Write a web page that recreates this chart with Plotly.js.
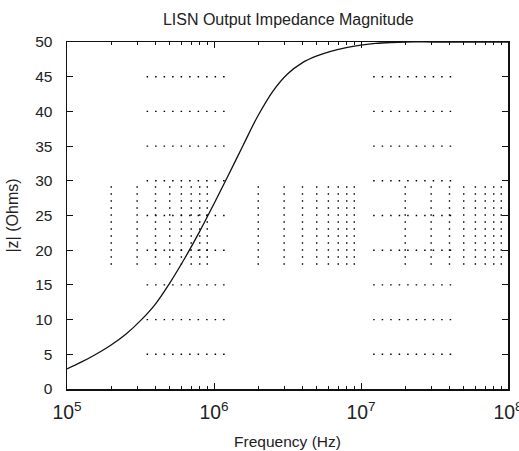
<!DOCTYPE html>
<html>
<head>
<meta charset="utf-8">
<script src="https://cdn.plot.ly/plotly-3.0.1.min.js"></script>
<style>html,body{margin:0;padding:0;background:#fff;}#chart{width:519px;height:451px;}</style>
</head>
<body>
<div id="chart"></div>
<script>
// Curve: log10 of frequency (Hz) and |Z| (Ohms)
const logFreq = [5.0, 5.1, 5.2, 5.3, 5.4, 5.5, 5.6, 5.7, 5.8, 5.9, 6.0, 6.1, 6.2, 6.3, 6.4, 6.5, 6.6, 6.7, 6.8, 6.9, 7.0, 7.1, 7.2, 7.3, 7.5, 7.75, 8.0];
const impedance = [2.9, 3.9, 5.05, 6.35, 7.9, 9.85, 12.2, 15.3, 18.8, 22.6, 26.7, 30.9, 35.2, 39.4, 42.9, 45.4, 47.0, 48.0, 48.7, 49.2, 49.55, 49.8, 49.93, 50.0, 50.0, 50.0, 50.0];

// Partial dotted grid seen in the reference
const gridYLevels = [5, 10, 15, 20, 25, 30, 35, 40, 45];
const gridHSpans = [[3.48e5, 1.24e6], [1.21e7, 4.5e7]];
const gridXMinor = [2e5, 3e5, 4e5, 5e5, 6e5, 7e5, 8e5, 9e5,
                    2e6, 3e6, 4e6, 5e6, 6e6, 7e6, 8e6, 9e6,
                    2e7, 3e7, 4e7, 5e7, 6e7, 7e7, 8e7, 9e7];
const gridVSpan = [17.9, 30];

const freq = logFreq.map(v => Math.pow(10, v));

const hx = [], hy = [];
gridYLevels.forEach(y => {
  gridHSpans.forEach(s => { hx.push(s[0], s[1], null); hy.push(y, y, null); });
});
const vx = [], vy = [];
gridXMinor.forEach(x => { vx.push(x, x, null); vy.push(gridVSpan[0], gridVSpan[1], null); });

const traces = [
  {x: hx, y: hy, mode: 'lines', line: {color: '#000', width: 1.4, dash: '1.5px,7px'}, hoverinfo: 'skip', showlegend: false},
  {x: vx, y: vy, mode: 'lines', line: {color: '#000', width: 1.4, dash: '1.5px,5.5px'}, hoverinfo: 'skip', showlegend: false},
  {x: freq, y: impedance, mode: 'lines', line: {color: '#111', width: 1.3, shape: 'spline', smoothing: 1}, showlegend: false}
];

const font = {family: 'Liberation Sans, Arial, sans-serif', color: '#222'};
const layout = {
  width: 519, height: 451,
  margin: {l: 67, r: 11, t: 42, b: 62},
  paper_bgcolor: '#fff', plot_bgcolor: '#fff',
  font: Object.assign({size: 15}, font),
  title: {text: 'LISN Output Impedance Magnitude', font: Object.assign({size: 16}, font), x: 0.5555, xanchor: 'center', y: 0.958, yanchor: 'middle'},
  xaxis: {
    type: 'log', range: [5, 8], dtick: 1, exponentformat: 'power',
    ticklabeloverflow: 'allow',
    showgrid: false, zeroline: false,
    showline: true, linecolor: '#111', linewidth: 1.5, mirror: 'ticks',
    ticks: 'inside', ticklen: 6, tickcolor: '#111', tickwidth: 1,
    minor: {ticks: 'inside', ticklen: 3, tickcolor: '#111', tickwidth: 1, dtick: 'D1', showgrid: false},
    tickfont: Object.assign({size: 15.5}, font),
    ticklabelstandoff: 6,
    title: {text: 'Frequency (Hz)', font: Object.assign({size: 15.5}, font), standoff: 14}
  },
  yaxis: {
    range: [0, 50], dtick: 5,
    showgrid: false, zeroline: false,
    showline: true, linecolor: '#111', linewidth: 1.5, mirror: 'ticks',
    ticks: 'inside', ticklen: 6, tickcolor: '#111', tickwidth: 1,
    tickfont: Object.assign({size: 15.5}, font),
    ticklabelstandoff: 10,
    title: {text: '|z| (Ohms)', font: Object.assign({size: 16}, font), standoff: 12}
  }
};

Plotly.newPlot('chart', traces, layout, {displayModeBar: false, staticPlot: true});
</script>
</body>
</html>
